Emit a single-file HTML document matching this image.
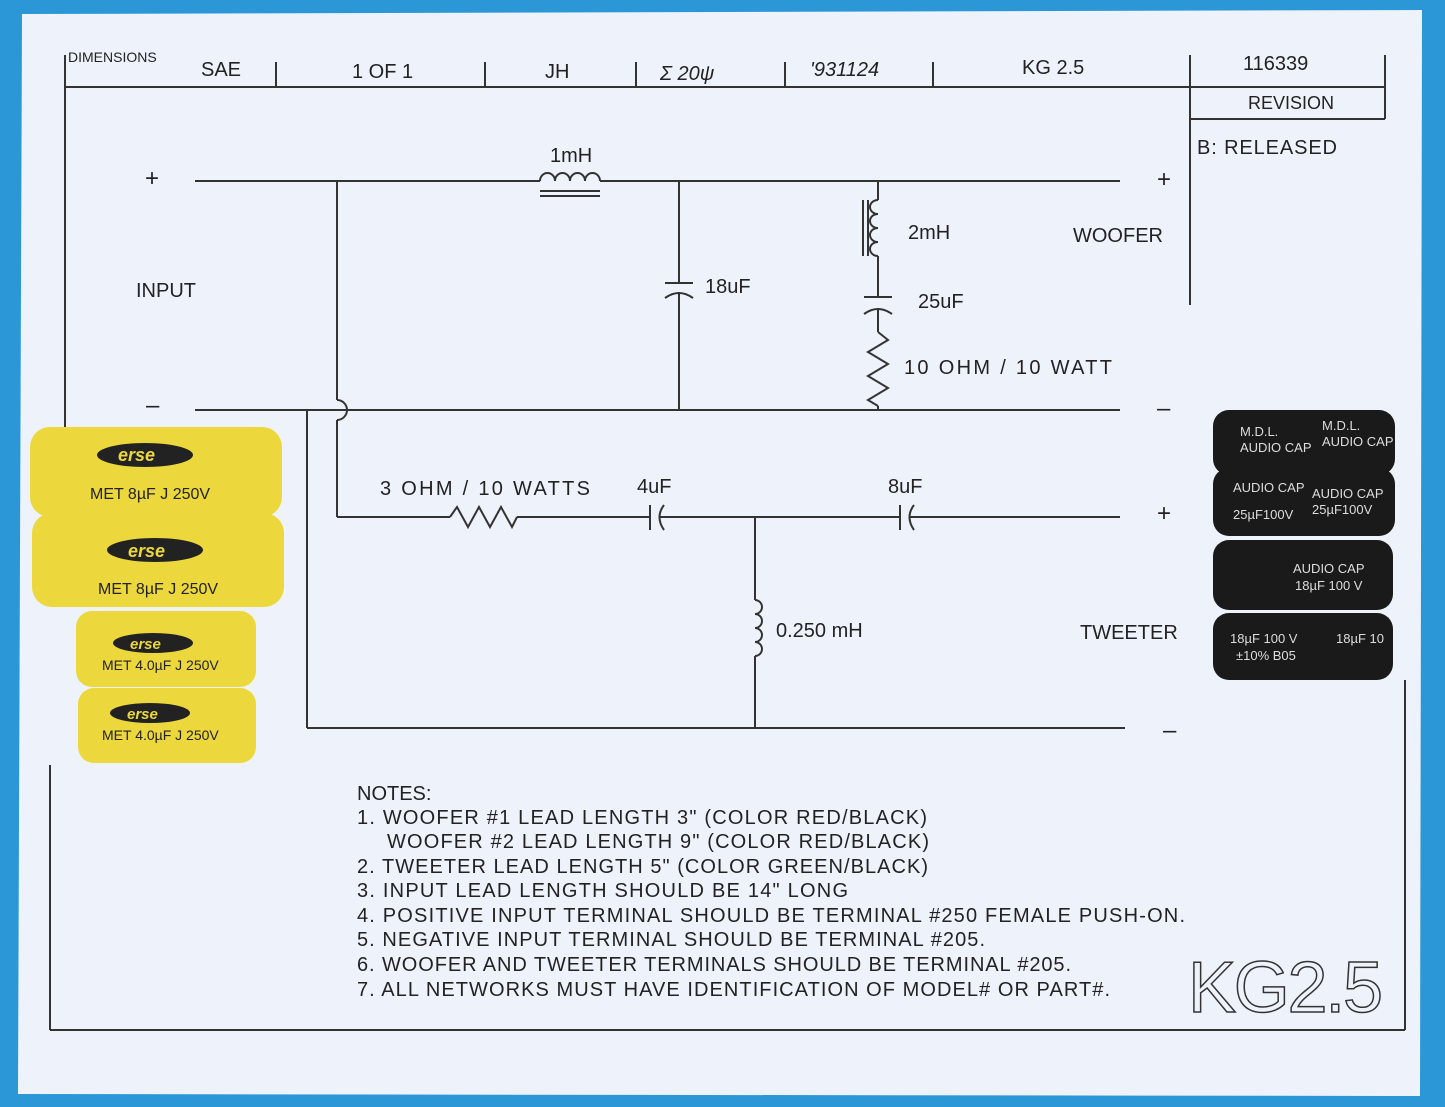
<!DOCTYPE html>
<html><head><meta charset="utf-8"><style>
html,body{margin:0;padding:0;background:#2b97d6;}
svg{display:block}
text{font-family:"Liberation Sans",sans-serif;fill:#222}
</style></head><body>
<svg width="1445" height="1107" viewBox="0 0 1445 1107" xmlns="http://www.w3.org/2000/svg">
<rect x="0" y="0" width="1445" height="1107" fill="#2b97d6"/>
<polygon points="22,14 1422,10 1420,1096 18,1094" fill="#eef3fb"/>
<g stroke="#333" stroke-width="2" fill="none">
<line x1="65" y1="87" x2="1385" y2="87"/>
<line x1="65" y1="55" x2="65" y2="430"/>
<line x1="276" y1="62" x2="276" y2="87"/><line x1="485" y1="62" x2="485" y2="87"/>
<line x1="636" y1="62" x2="636" y2="87"/><line x1="785" y1="62" x2="785" y2="87"/>
<line x1="933" y1="62" x2="933" y2="87"/>
<line x1="1190" y1="55" x2="1190" y2="305"/>
<line x1="1190" y1="119" x2="1385" y2="119"/>
<line x1="1385" y1="55" x2="1385" y2="119"/>
<line x1="50" y1="1030" x2="1405" y2="1030"/>
<line x1="50" y1="765" x2="50" y2="1030"/>
<line x1="1405" y1="680" x2="1405" y2="1030"/>
<line x1="195" y1="181" x2="540" y2="181"/>
<line x1="600" y1="181" x2="1120" y2="181"/>
<path d="M540,181 a7.5,8 0 0 1 15,0 a7.5,8 0 0 1 15,0 a7.5,8 0 0 1 15,0 a7.5,8 0 0 1 15,0"/>
<line x1="540" y1="191" x2="600" y2="191"/><line x1="540" y1="196" x2="600" y2="196"/>
<line x1="195" y1="410" x2="1120" y2="410"/>
<line x1="337" y1="181" x2="337" y2="400"/>
<path d="M337,400 a10,10 0 0 1 0,20"/>
<line x1="337" y1="420" x2="337" y2="517"/>
<line x1="679" y1="181" x2="679" y2="283"/>
<line x1="665" y1="283" x2="693" y2="283"/>
<path d="M665,298 q14,-10 28,0"/>
<line x1="679" y1="292" x2="679" y2="410"/>
<line x1="878" y1="181" x2="878" y2="200"/>
<path d="M878,200 a8,7 0 0 0 0,14 a8,7 0 0 0 0,14 a8,7 0 0 0 0,14 a8,7 0 0 0 0,14"/>
<line x1="868" y1="200" x2="868" y2="256"/><line x1="863" y1="200" x2="863" y2="256"/>
<line x1="878" y1="256" x2="878" y2="297"/>
<line x1="864" y1="297" x2="892" y2="297"/>
<path d="M864,314 q14,-10 28,0"/>
<line x1="878" y1="308" x2="878" y2="332"/>
<polyline points="878,332 888,340 868,352 888,364 868,376 888,388 868,400 878,406"/>
<line x1="878" y1="406" x2="878" y2="410"/>
<line x1="307" y1="410" x2="307" y2="728"/>
<line x1="337" y1="517" x2="450" y2="517"/>
<polyline points="450,517 457,507 468,527 479,507 490,527 501,507 512,527 517,517"/>
<line x1="517" y1="517" x2="650" y2="517"/>
<line x1="650" y1="505" x2="650" y2="530"/>
<path d="M664,505 q-9,12 0,25"/>
<line x1="659" y1="517" x2="900" y2="517"/>
<line x1="900" y1="505" x2="900" y2="530"/>
<path d="M914,505 q-9,12 0,25"/>
<line x1="909" y1="517" x2="1120" y2="517"/>
<line x1="755" y1="517" x2="755" y2="600"/>
<path d="M755,600 a7,7 0 0 1 0,14 a7,7 0 0 1 0,14 a7,7 0 0 1 0,14 a7,7 0 0 1 0,14"/>
<line x1="755" y1="656" x2="755" y2="728"/>
<line x1="307" y1="728" x2="1125" y2="728"/>
</g>
<g font-size="20">
<text x="68" y="62" font-size="14">DIMENSIONS</text>
<text x="201" y="76">SAE</text>
<text x="352" y="78">1 OF 1</text>
<text x="545" y="78">JH</text>
<text x="660" y="80" font-style="italic" font-family="Liberation Serif">Σ 20ψ</text>
<text x="810" y="76" font-style="italic">'931124</text>
<text x="1022" y="74">KG 2.5</text>
<text x="1243" y="70">116339</text>
<text x="1248" y="109" font-size="18">REVISION</text>
<text x="1197" y="154" textLength="140">B: RELEASED</text>
<text x="145" y="186" font-size="24">+</text>
<text x="1157" y="187" font-size="24">+</text>
<text x="146" y="413" font-size="24">–</text>
<text x="1157" y="416" font-size="24">–</text>
<text x="1157" y="521" font-size="24">+</text>
<text x="1163" y="738" font-size="24">–</text>
<text x="550" y="162">1mH</text>
<text x="136" y="297">INPUT</text>
<text x="1073" y="242">WOOFER</text>
<text x="705" y="293">18uF</text>
<text x="908" y="239">2mH</text>
<text x="918" y="308">25uF</text>
<text x="904" y="374" textLength="208">10 OHM / 10 WATT</text>
<text x="380" y="495" textLength="210">3 OHM / 10 WATTS</text>
<text x="637" y="493">4uF</text>
<text x="888" y="493">8uF</text>
<text x="776" y="637">0.250 mH</text>
<text x="1080" y="639">TWEETER</text>
</g>
<g font-size="20">
<text x="357" y="800">NOTES:</text>
<text x="357" y="824" textLength="570">1. WOOFER #1 LEAD LENGTH 3" (COLOR RED/BLACK)</text>
<text x="387" y="848" textLength="542">WOOFER #2 LEAD LENGTH 9" (COLOR RED/BLACK)</text>
<text x="357" y="873" textLength="571">2. TWEETER LEAD LENGTH 5" (COLOR GREEN/BLACK)</text>
<text x="357" y="897" textLength="491">3. INPUT LEAD LENGTH SHOULD BE 14" LONG</text>
<text x="357" y="922" textLength="828">4. POSITIVE INPUT TERMINAL SHOULD BE TERMINAL #250 FEMALE PUSH-ON.</text>
<text x="357" y="946" textLength="628">5. NEGATIVE INPUT TERMINAL SHOULD BE TERMINAL #205.</text>
<text x="357" y="971" textLength="714">6. WOOFER AND TWEETER TERMINALS SHOULD BE TERMINAL #205.</text>
<text x="357" y="996" textLength="753">7. ALL NETWORKS MUST HAVE IDENTIFICATION OF MODEL# OR PART#.</text>
<text x="1188" y="1012" font-size="72" style="fill:none;stroke:#333;stroke-width:1.5" textLength="195">KG2.5</text>
</g>
<g>
<rect x="30" y="427" width="252" height="90" rx="20" fill="#ecd83c"/>
<rect x="32" y="513" width="252" height="94" rx="20" fill="#ecd83c"/>
<rect x="76" y="611" width="180" height="76" rx="16" fill="#ecd83c"/>
<rect x="78" y="688" width="178" height="75" rx="16" fill="#ecd83c"/>
<ellipse cx="145" cy="455" rx="48" ry="12" fill="#222"/><text x="118" y="461" font-size="18" style="fill:#ecd83c" font-style="italic" font-weight="bold">erse</text>
<ellipse cx="155" cy="550" rx="48" ry="12" fill="#222"/><text x="128" y="557" font-size="18" style="fill:#ecd83c" font-style="italic" font-weight="bold">erse</text>
<ellipse cx="153" cy="643" rx="40" ry="10" fill="#222"/><text x="130" y="649" font-size="15" style="fill:#ecd83c" font-style="italic" font-weight="bold">erse</text>
<ellipse cx="150" cy="713" rx="40" ry="10" fill="#222"/><text x="127" y="719" font-size="15" style="fill:#ecd83c" font-style="italic" font-weight="bold">erse</text>
<text x="90" y="499" font-size="16">MET 8µF J 250V</text>
<text x="98" y="594" font-size="16">MET 8µF J 250V</text>
<text x="102" y="670" font-size="14">MET 4.0µF J 250V</text>
<text x="102" y="740" font-size="14">MET 4.0µF J 250V</text>
</g>
<g>
<rect x="1213" y="410" width="182" height="65" rx="16" fill="#1a1a1a"/>
<rect x="1213" y="468" width="182" height="68" rx="16" fill="#1a1a1a"/>
<rect x="1213" y="540" width="180" height="70" rx="16" fill="#1a1a1a"/>
<rect x="1213" y="613" width="180" height="67" rx="16" fill="#1a1a1a"/>
<g font-size="13">
<text x="1240" y="436" style="fill:#ddd">M.D.L.</text><text x="1322" y="430" style="fill:#ddd">M.D.L.</text>
<text x="1240" y="452" style="fill:#ddd">AUDIO CAP</text><text x="1322" y="446" style="fill:#ddd">AUDIO CAP</text>
<text x="1233" y="492" style="fill:#ddd">AUDIO CAP</text><text x="1312" y="498" style="fill:#ddd">AUDIO CAP</text>
<text x="1233" y="519" style="fill:#ddd">25µF100V</text><text x="1312" y="514" style="fill:#ddd">25µF100V</text>
<text x="1293" y="573" style="fill:#ddd">AUDIO CAP</text><text x="1295" y="590" style="fill:#ddd">18µF 100 V</text>
<text x="1230" y="643" style="fill:#ddd">18µF 100 V</text><text x="1236" y="660" style="fill:#ddd">±10% B05</text>
<text x="1336" y="643" style="fill:#ddd">18µF 10</text>
</g>
</g>
</svg>
</body></html>
